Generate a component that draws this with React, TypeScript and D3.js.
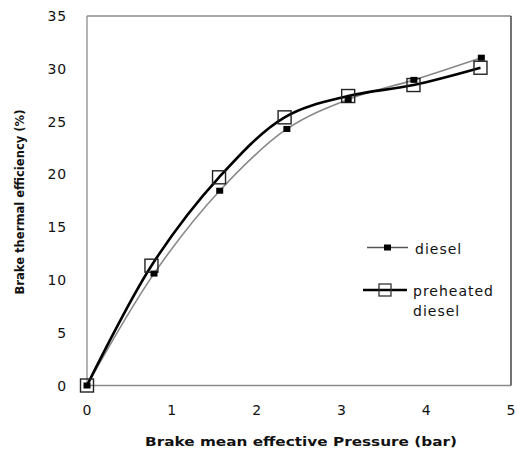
import React from "react";
import * as d3 from "d3";

const bmep = [0, 0.79, 1.565, 2.357, 3.08, 3.855, 4.65];
const dieselBTE = [0, 10.6, 18.45, 24.3, 27.1, 28.95, 31.05];
const bmepPre = [0, 0.76, 1.557, 2.33, 3.08, 3.85, 4.64];
const preheatedBTE = [0, 11.35, 19.72, 25.4, 27.42, 28.46, 30.1];
const xTicks = [0, 1, 2, 3, 4, 5];
const yTicks = [0, 5, 10, 15, 20, 25, 30, 35];

const W = 517, H = 450;
const L = 87, R = 511, T = 16, B = 385.5;

export default function App() {
  const x = d3.scaleLinear().domain([0, 5]).range([L, R]);
  const y = d3.scaleLinear().domain([0, 35]).range([B, T]);
  const line = d3
    .line<[number, number]>()
    .x((d) => x(d[0]))
    .y((d) => y(d[1]))
    .curve(d3.curveCatmullRom.alpha(0.5));
  const dPts = bmep.map((v, i) => [v, dieselBTE[i]] as [number, number]);
  const pPts = bmepPre.map((v, i) => [v, preheatedBTE[i]] as [number, number]);
  const font = "'DejaVu Sans', Verdana, sans-serif";
  return (
    <svg
      width={W}
      height={H}
      style={{ position: "absolute", left: 0, top: 0, background: "#fff" }}
    >
      {/* frame */}
      <line x1={L} y1={T} x2={R} y2={T} stroke="#8a8a8a" strokeWidth={1.3} />
      <line x1={L} y1={T} x2={L} y2={B} stroke="#8a8a8a" strokeWidth={1.3} />
      <line x1={L} y1={B} x2={R} y2={B} stroke="#8a8a8a" strokeWidth={1.3} />
      <line x1={R} y1={T} x2={R} y2={B} stroke="#444" strokeWidth={1.5} />

      {yTicks.map((t) => (
        <text
          key={"y" + t}
          x={67}
          y={y(t) + 5}
          textAnchor="end"
          fontFamily={font}
          fontSize={14}
          fill="#111"
          letterSpacing={0.8}
        >
          {t}
        </text>
      ))}
      {xTicks.map((t) => (
        <text
          key={"x" + t}
          x={x(t)}
          y={415}
          textAnchor="middle"
          fontFamily={font}
          fontSize={14}
          fill="#111"
        >
          {t}
        </text>
      ))}

      <text
        x={301}
        y={446}
        textAnchor="middle"
        fontFamily={font}
        fontWeight="bold"
        fontSize={13}
        textLength={312}
        lengthAdjust="spacingAndGlyphs"
        fill="#111"
      >
        Brake mean effective  Pressure (bar)
      </text>
      <text
        transform={`translate(24,202) rotate(-90)`}
        textAnchor="middle"
        fontFamily={font}
        fontWeight="bold"
        fontSize={13}
        textLength={185}
        lengthAdjust="spacingAndGlyphs"
        fill="#111"
      >
        Brake thermal efficiency (%)
      </text>

      {/* diesel */}
      <path d={line(dPts) || ""} fill="none" stroke="#888" strokeWidth={1.6} />
      {/* preheated */}
      <path d={line(pPts) || ""} fill="none" stroke="#000" strokeWidth={2.6} />
      {pPts.map((p, i) => (
        <rect
          key={"p" + i}
          x={x(p[0]) - 6.5}
          y={y(p[1]) - 6.5}
          width={13}
          height={13}
          fill="none"
          stroke="#222"
          strokeWidth={1.4}
        />
      ))}
      {dPts.map((p, i) => (
        <rect
          key={"d" + i}
          x={x(p[0]) - 3.5}
          y={y(p[1]) - 3}
          width={7}
          height={6}
          fill="#000"
        />
      ))}

      {/* legend */}
      <line x1={367} y1={247.5} x2={408} y2={247.5} stroke="#555" strokeWidth={1.3} />
      <rect x={384} y={244.5} width={7} height={6} fill="#000" />
      <text x={415} y={254} fontFamily={font} fontSize={14} letterSpacing={1} fill="#111">
        diesel
      </text>
      <line x1={363} y1={290} x2={407} y2={290} stroke="#000" strokeWidth={2.6} />
      <rect x={379} y={284} width={12} height={12} fill="none" stroke="#333" strokeWidth={1.3} />
      <text x={413} y={296} fontFamily={font} fontSize={14} letterSpacing={1} fill="#111">
        preheated
      </text>
      <text x={413} y={316} fontFamily={font} fontSize={14} letterSpacing={1} fill="#111">
        diesel
      </text>
    </svg>
  );
}
